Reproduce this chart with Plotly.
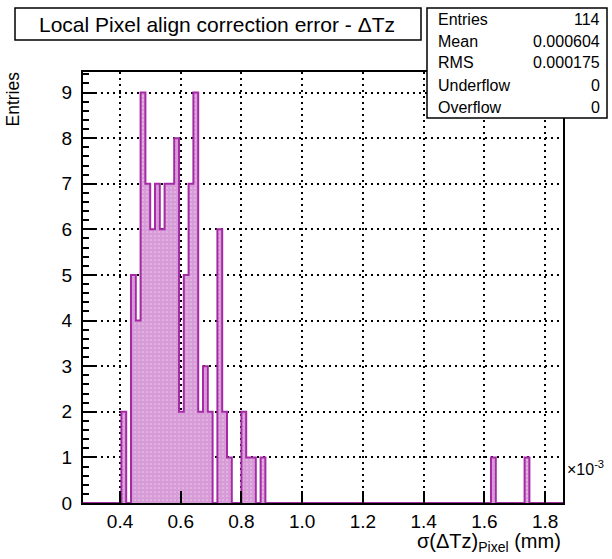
import plotly.graph_objects as go

# ---- data (x in units of 1e-3 mm) ----
x_min = 0.278
x_max = 1.859
n_bins = 100
counts = [
    0, 0, 0, 0, 0, 0, 0, 0, 2, 0,
    5, 4, 9, 7, 6, 7, 6, 7, 7, 8,
    2, 5, 7, 9, 2, 3, 2, 0, 6, 2,
    1, 0, 0, 2, 1, 1, 0, 1, 0, 0,
    0, 0, 0, 0, 0, 0, 0, 0, 0, 0,
    0, 0, 0, 0, 0, 0, 0, 0, 0, 0,
    0, 0, 0, 0, 0, 0, 0, 0, 0, 0,
    0, 0, 0, 0, 0, 0, 0, 0, 0, 0,
    0, 0, 0, 0, 0, 1, 0, 0, 0, 0,
    0, 0, 1, 0, 0, 0, 0, 0, 0, 0,
]
x_tick_vals = [0.4, 0.6, 0.8, 1.0, 1.2, 1.4, 1.6, 1.8]
x_tick_text = ["0.4", "0.6", "0.8", "1.0", "1.2", "1.4", "1.6", "1.8"]
y_tick_vals = list(range(0, 10))
stats_labels = ["Entries", "Mean", "RMS", "Underflow", "Overflow"]
stats_values = ["114", "0.000604", "0.000175", "0", "0"]
title_text = "Local Pixel align correction error - ΔTz"

bw = (x_max - x_min) / n_bins
edges = [x_min + i * bw for i in range(n_bins + 1)]
centers = [x_min + (i + 0.5) * bw for i in range(n_bins)]

FONT = "Liberation Sans, Arial, Helvetica, sans-serif"
LINE_COL = "#a62aa6"
FILL_COL = "#b038b0"

fig = go.Figure()
fig.add_trace(go.Bar(
    x=centers, y=counts, width=bw,
    marker=dict(color="rgba(0,0,0,0)", line=dict(width=0),
                pattern=dict(shape=".", fgcolor=FILL_COL, bgcolor="white",
                             size=4, solidity=0.85)),
    showlegend=False, hoverinfo="skip"))
fig.add_trace(go.Scatter(
    x=edges, y=counts + [counts[-1]], mode="lines",
    line=dict(color=LINE_COL, width=2, shape="hv"),
    showlegend=False, hoverinfo="skip"))

L, R, T, B = 83, 49, 72, 56
W, H = 612, 559
pw, ph = W - L - R, H - T - B


def px(xp):
    return (xp - L) / pw


def py(yp):
    return (H - B - yp) / ph


fig.update_layout(
    width=W, height=H,
    margin=dict(l=L, r=R, t=T, b=B),
    paper_bgcolor="white", plot_bgcolor="white",
    bargap=0, barmode="overlay",
    font=dict(family=FONT, size=17, color="black"),
    xaxis=dict(range=[x_min, x_max], tickvals=x_tick_vals, ticktext=x_tick_text,
               ticks="inside", ticklen=12, tickwidth=1.5, tickcolor="black",
               ticklabelstandoff=0,
               showline=True, linecolor="black", linewidth=2, mirror=True,
               showgrid=True, gridcolor="black", gridwidth=1.5, griddash="2px,4px",
               zeroline=False, tickfont=dict(size=19, family=FONT)),
    yaxis=dict(range=[0, 9.45], tickvals=y_tick_vals,
               ticks="inside", ticklen=12, tickwidth=1.5, tickcolor="black",
               ticklabelstandoff=5,
               minor=dict(ticks="inside", ticklen=6, dtick=0.2, tickcolor="black",
                          tickwidth=1.5, showgrid=False),
               showline=True, linecolor="black", linewidth=2, mirror=True,
               showgrid=True, gridcolor="black", gridwidth=1.5, griddash="2px,4px",
               zeroline=False, tickfont=dict(size=19, family=FONT)),
)

shapes = [
    dict(type="rect", xref="paper", yref="paper",
         x0=px(15), x1=px(421), y0=py(40), y1=py(8),
         line=dict(color="black", width=1.5), fillcolor="white", layer="above"),
    dict(type="rect", xref="paper", yref="paper",
         x0=px(427), x1=px(607), y0=py(118), y1=py(8),
         line=dict(color="black", width=1.5), fillcolor="white", layer="above"),
]
fig.update_layout(shapes=shapes)

ann = [
    dict(text=title_text, xref="paper", yref="paper", x=px(217), y=py(24),
         xanchor="center", yanchor="middle", showarrow=False,
         font=dict(size=21, family=FONT)),
    dict(text="Entries", xref="paper", yref="paper", x=px(12), y=py(70),
         xanchor="center", yanchor="top", textangle=-90, showarrow=False,
         font=dict(size=17.5, family=FONT)),
    dict(text="σ(ΔTz)<sub>Pixel</sub> (mm)", xref="paper", yref="paper",
         x=px(563), y=py(542), xanchor="right", yanchor="middle", showarrow=False,
         font=dict(size=20, family=FONT)),
    dict(text="×10<sup>-3</sup>", xref="paper", yref="paper",
         x=px(565), y=py(468), xanchor="left", yanchor="middle", showarrow=False,
         font=dict(size=16, family=FONT)),
]
row_y = [20, 42, 63, 86, 107]
for lab, val, yy in zip(stats_labels, stats_values, row_y):
    ann.append(dict(text=lab, xref="paper", yref="paper", x=px(436), y=py(yy),
                    xanchor="left", yanchor="middle", showarrow=False,
                    font=dict(size=16, family=FONT)))
    ann.append(dict(text=val, xref="paper", yref="paper", x=px(602), y=py(yy),
                    xanchor="right", yanchor="middle", showarrow=False,
                    font=dict(size=16, family=FONT)))
fig.update_layout(annotations=ann)

fig.write_html("out.html", config={"displayModeBar": False},
               post_script="document.body.style.margin='0';document.body.style.padding='0';")
